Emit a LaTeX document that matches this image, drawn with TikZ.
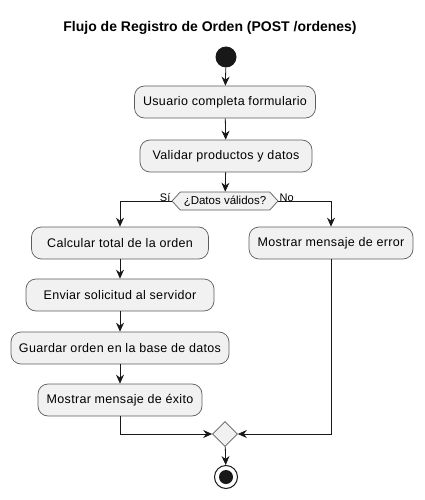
\documentclass[tikz,border=0pt]{standalone}
\usepackage{fontspec}
\setmainfont{Liberation Sans}
\newfontfamily\actfont[LetterSpace=2.5]{Liberation Sans}
\usetikzlibrary{arrows.meta,shapes.geometric,shapes.symbols}
\definecolor{boxfill}{HTML}{F1F1F1}
\definecolor{boxline}{HTML}{181818}
\tikzset{
  act/.style={draw=boxline!70, fill=boxfill, rounded corners=10pt, line width=0.7pt,
    minimum height=32pt, inner xsep=0pt, font=\actfont\fontsize{12.5}{14}\selectfont},
  flow/.style={draw=boxline, line width=0.8pt, -{Stealth[length=9pt,width=8pt,inset=3pt]}},
  lbl/.style={font=\fontsize{11}{13}\selectfont, inner sep=0pt},
}
\begin{document}
\begin{tikzpicture}[x=1pt,y=-1pt]
\useasboundingbox (0,0) rectangle (424,500);
\node[font=\bfseries\fontsize{14}{16}\selectfont] (title) at (210,28) {Flujo de Registro de Orden (POST /ordenes)};
\node[circle, fill=boxline, minimum size=21pt, inner sep=0pt] (start) at (226,57) {};
\node[act, minimum width=181pt] (a1) at (225,102) {Usuario completa formulario};
\node[act, minimum width=172pt] (a2) at (226,156) {Validar productos y datos};
\node[signal, signal to=west and east, signal pointer angle=95, draw=boxline!70, fill=boxfill,
  line width=0.7pt, minimum height=18pt, minimum width=106pt, inner xsep=2pt, inner ysep=1pt,
  font=\fontsize{11.5}{13}\selectfont] (dec) at (225,201) {¿Datos válidos?};
\node[act, minimum width=177pt] (a3) at (120,243) {Calcular total de la orden};
\node[act, minimum width=164pt] (err) at (331,243) {Mostrar mensaje de error};
\node[act, minimum width=188pt] (a4) at (120,295) {Enviar solicitud al servidor};
\node[act, minimum width=218pt] (a5) at (120,348) {Guardar orden en la base de datos};
\node[act, minimum width=164pt] (a6) at (120,400) {Mostrar mensaje de éxito};
\node[diamond, draw=boxline!70, fill=boxfill, line width=0.7pt, minimum size=25pt, inner sep=0pt] (merge) at (225,434) {};
\node[circle, draw=boxline, line width=1pt, minimum size=23pt, inner sep=0pt] (end) at (226,477) {};
\node[circle, fill=boxline, minimum size=14pt, inner sep=0pt] at (end.center) {};

\draw[flow] (start) -- (a1);
\draw[flow] (a1) -- (a2);
\draw[flow] (a2) -- (dec);
\draw[flow] (dec.west) -| (a3.north);
\draw[flow] (dec.east) -| (err.north);
\draw[flow] (a3) -- (a4);
\draw[flow] (a4) -- (a5);
\draw[flow] (a5) -- (a6);
\draw[flow] (a6.south) |- (merge.west);
\draw[flow] (err.south) |- (merge.east);
\draw[flow] (merge) -- (end);
\node[lbl, anchor=south east] (si) at ([xshift=-1pt,yshift=-1pt]dec.west) {Sí};
\node[lbl, anchor=south west] (no) at ([xshift=1pt,yshift=-1pt]dec.east) {No};
\end{tikzpicture}
\end{document}
